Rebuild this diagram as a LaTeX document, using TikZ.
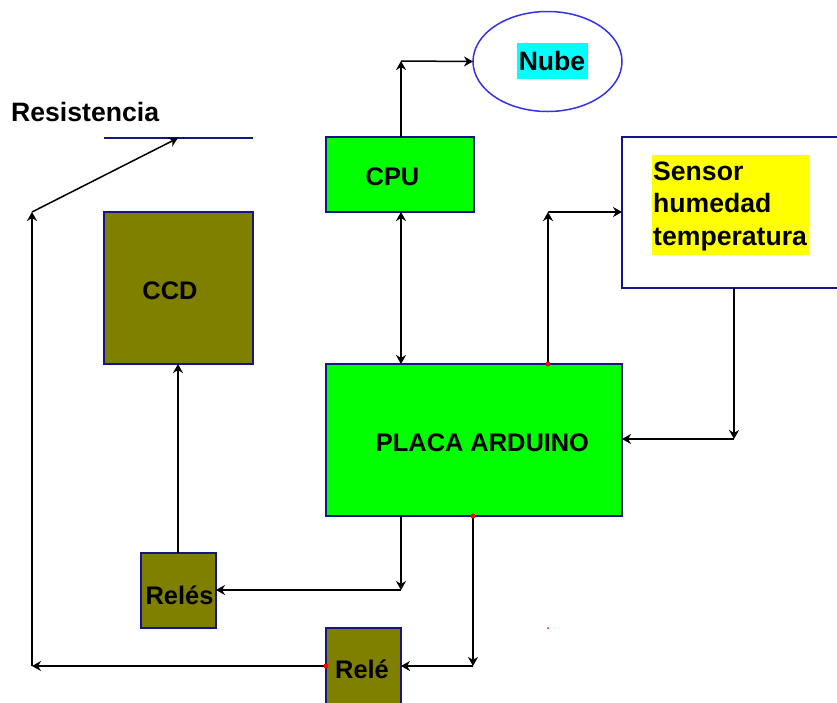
\documentclass[tikz,border=0pt]{standalone}
\usepackage{fontspec}
\setmainfont{Liberation Sans}
\usetikzlibrary{arrows.meta,shapes.geometric}
\definecolor{boxedge}{RGB}{20,20,140}
\definecolor{elledge}{RGB}{50,50,235}
\definecolor{olivefill}{RGB}{128,128,0}
\definecolor{greenfill}{RGB}{0,255,0}
\definecolor{nubefill}{RGB}{0,255,255}
\definecolor{sensorfill}{RGB}{255,255,0}
\definecolor{dotred}{RGB}{255,0,0}
\tikzset{
  blockbox/.style={draw=boxedge,line width=1.6pt,rectangle,inner sep=0pt,outer sep=0pt,anchor=north west},
  greenbox/.style={blockbox,fill=greenfill},
  olivebox/.style={blockbox,fill=olivefill},
  lab/.style={font=\bfseries\fontsize{25.4}{25.4}\selectfont,inner sep=0pt,text=black},
  boldlab/.style={font=\bfseries\fontsize{26.6}{32}\selectfont,inner sep=0pt,text=black},
  conn/.style={line width=1.5pt,black,-{Stealth[length=9pt,width=10pt]}},
  dconn/.style={line width=1.5pt,black,{Stealth[length=9pt,width=10pt]}-{Stealth[length=9pt,width=10pt]}},
  reddot/.style={circle,fill=dotred,inner sep=0pt,minimum size=#1},
}
\begin{document}
\begin{tikzpicture}[x=1pt,y=-1pt]
\useasboundingbox (0,0) rectangle (837,702);
% blocks
\node[ellipse,draw=elledge,line width=1.5pt,minimum width=149pt,minimum height=100pt,inner sep=0pt,outer sep=0pt] (nube) at (547.5,61.5) {};
\node[greenbox,minimum width=148pt,minimum height=75pt] (cpu) at (326,137) {};
\node[blockbox,fill=white,minimum width=216pt,minimum height=151pt] (sensor) at (622,137) {};
\node[olivebox,minimum width=149pt,minimum height=152pt] (ccd) at (104,212) {};
\node[greenbox,minimum width=296pt,minimum height=152pt] (ard) at (326,364) {};
\node[olivebox,minimum width=75pt,minimum height=75pt] (reles) at (141,553) {};
\node[olivebox,minimum width=75pt,minimum height=80pt] (rele) at (326,628) {};
% resistor bar
\coordinate (resL) at (104,138);
\coordinate (resR) at (253,138);
\coordinate (resT) at (178,138);
\draw[draw=boxedge,line width=1.5pt] (resL) -- (resR);
% junctions
\coordinate (upN) at (401,61);
\coordinate (cpuT) at (401,137);
\coordinate (cpuB) at (401,212);
\coordinate (ardT) at (401,364);
\coordinate (ardS) at (548,364);
\coordinate (senC) at (548,212);
\coordinate (senL) at (622,212);
\coordinate (senB) at (734,288);
\coordinate (senD) at (734,439);
\coordinate (ardR) at (622,439);
\coordinate (ardB1) at (401,516);
\coordinate (rlC) at (401,590);
\coordinate (rlR) at (216,590);
\coordinate (ardB2) at (473,516);
\coordinate (r2C) at (473,666);
\coordinate (r2R) at (401,666);
\coordinate (r2L) at (326,666);
\coordinate (leftC) at (32,666);
\coordinate (leftT) at (32,212);
\coordinate (relesT) at (178,553);
\coordinate (ccdB) at (178,364);
\coordinate (dot) at (548,628);
% connectors
\draw[conn] (cpuT) -- (upN);
\draw[conn] (upN) -- (nube.west);
\draw[dconn] (cpuB) -- (ardT);
\draw[conn] (ardS) -- (senC);
\draw[conn] (senC) -- (senL);
\draw[conn] (senB) -- (senD);
\draw[conn] (senD) -- (ardR);
\draw[conn] (ardB1) -- (rlC);
\draw[conn] (rlC) -- (rlR);
\draw[conn] (ardB2) -- (r2C);
\draw[conn] (r2C) -- (r2R);
\draw[conn] (r2L) -- (leftC);
\draw[conn] (leftC) -- (leftT);
\draw[conn] (leftT) -- (resT);
\draw[conn] (relesT) -- (ccdB);
% red dots
\node[reddot=5pt] (d1) at (ardS) {};
\node[reddot=5pt] (d2) at (ardB2) {};
\node[reddot=5pt] (d3) at (r2L) {};
\node[reddot=2pt] (d4) at (dot) {};
% highlights
\fill[nubefill] (517,43) rectangle (588,79);
\fill[sensorfill] (652,155) rectangle (809,255);
% text
\node[boldlab,anchor=base west] (tres) at (11,121) {Resistencia};
\node[boldlab,anchor=base] (tnube) at (552,70) {Nube};
\node[lab,anchor=base] (tcpu) at (392.5,185) {CPU};
\node[lab,anchor=base] (tccd) at (170,299) {CCD};
\node[lab,anchor=base] (tard) at (482.5,451) {PLACA ARDUINO};
\node[lab,anchor=base] (treles) at (179.5,604) {Relés};
\node[lab,anchor=base] (trele) at (362,678) {Relé};
\node[boldlab,anchor=base west] (ts1) at (653,180) {Sensor};
\node[boldlab,anchor=base west] (ts2) at (653,212) {humedad};
\node[boldlab,anchor=base west] (ts3) at (653,245) {temperatura};
\end{tikzpicture}
\end{document}
